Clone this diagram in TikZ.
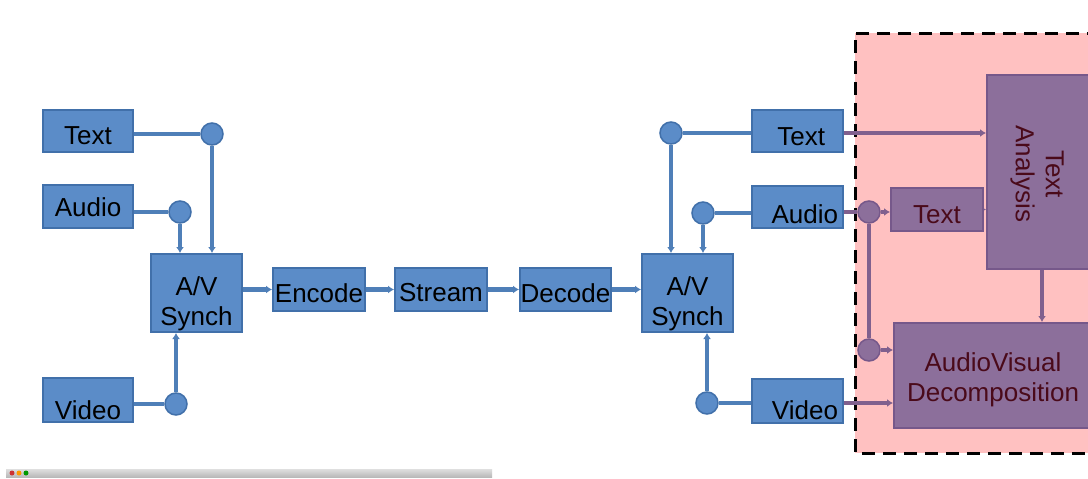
\documentclass[tikz,border=0pt]{standalone}
\usepackage{fontspec}
\setmainfont{Liberation Sans}
\usetikzlibrary{arrows.meta}
\definecolor{bfill}{HTML}{5B8CC8}
\definecolor{bdraw}{HTML}{4170AA}
\definecolor{bline}{HTML}{4F7FB8}
\definecolor{pfill}{HTML}{8C6F9B}
\definecolor{pdraw}{HTML}{76588A}
\definecolor{pline}{HTML}{80608E}
\definecolor{ptext}{HTML}{4A0A1A}
\definecolor{pink}{HTML}{FFC1C1}
\pgfdeclarelayer{back}
\pgfdeclarelayer{bg}
\pgfsetlayers{back,bg,main}
\tikzset{
  lbl/.style={font=\fontsize{26}{30}\selectfont, inner sep=0pt},
  bbox/.style={lbl, draw=bdraw, fill=bfill, line width=2pt, text=black, align=center},
  pbox/.style={lbl, draw=pdraw, fill=pfill, line width=2pt, text=ptext, align=center},
  dn/.style={text height=#1, text depth=0pt},
  bdot/.style={circle, draw=bdraw, fill=bfill, line width=1.5pt, minimum size=22pt, inner sep=0pt},
  pdot/.style={circle, draw=pdraw, fill=pfill, line width=1.5pt, minimum size=22pt, inner sep=0pt},
  bl/.style={draw=bline, line width=4.5pt},
  bla/.style={bl, -{Latex[length=6pt,width=8pt]}},
  pl/.style={draw=pline, line width=4.5pt},
  pla/.style={pl, -{Latex[length=6pt,width=8pt]}},
}
\begin{document}
\begin{tikzpicture}[x=1pt,y=-1pt]
\useasboundingbox (0,0) rectangle (1088,479);
\clip (0,0) rectangle (1088,479);

% pink region
\begin{pgfonlayer}{back}
\fill[white] (0,0) rectangle (1088,479);
\fill[pink] (855,33) rectangle (1100,453);
\draw[black, line width=3pt, dash pattern=on 13pt off 8pt] (1100,33) -- (855,33) -- (855,453) -- (1100,453);
\end{pgfonlayer}

% left side boxes
\node[bbox, dn=27.6pt, minimum width=90pt, minimum height=42pt] (lT) at (88,131) {Text};
\node[bbox, dn=20.6pt, minimum width=90pt, minimum height=43pt] (lA) at (88,206.5) {Audio};
\node[bbox, dn=38.6pt, minimum width=90pt, minimum height=44pt] (lV) at (88,400) {Video};
\node[bbox, minimum width=91pt, minimum height=78pt] (lAV) at (196.5,293) {};
\node[lbl, align=center] (lAVl) at (196.5,304) {A/V\\Synch};
\node[bbox, dn=26.6pt, minimum width=92pt, minimum height=43pt] (enc) at (319,289.5) {Encode};
\node[bbox, dn=24.6pt, minimum width=92pt, minimum height=43pt] (str) at (441,289.5) {Stream};
\node[bbox, dn=26.6pt, minimum width=91pt, minimum height=43pt] (dec) at (565.5,289.5) {Decode};
\node[bbox, minimum width=91pt, minimum height=78pt] (rAV) at (687.5,293) {};
\node[lbl, align=center] (rAVl) at (687.5,304) {A/V\\Synch};
\node[bbox, dn=28.6pt, minimum width=91pt, minimum height=42pt, text width=87pt, align=right] (rT) at (797.5,131) {Text\hspace*{16pt}};
\node[bbox, dn=32.6pt, minimum width=91pt, minimum height=42pt, text width=87pt, align=right] (rA) at (797.5,207) {Audio\hspace*{3pt}};
\node[bbox, dn=36.6pt, minimum width=91pt, minimum height=44pt, text width=87pt, align=right] (rV) at (797.5,401) {Video\hspace*{3pt}};

% pink region boxes
\node[pbox, dn=27.6pt, minimum width=92pt, minimum height=43pt] (st) at (937,209.5) {Text};
\node[pbox, minimum width=110pt, minimum height=194pt] (TA) at (1042,172) {};
\node[lbl, text=ptext, rotate=-90, align=center] (TAl) at (1037,174) {Text\\Analysis};
\node[pbox, minimum width=200pt, minimum height=105pt] (AVD) at (994,375.5) {};
\node[lbl, text=ptext, align=center] (AVDl) at (993,380) {AudioVisual\\Decomposition};

% dots
\node[bdot] (lcT) at (212,134) {};
\node[bdot] (lcA) at (180,212) {};
\node[bdot] (lcV) at (176,404) {};
\node[bdot] (rcT) at (671,133) {};
\node[bdot] (rcA) at (703,213) {};
\node[bdot] (rcV) at (707,403) {};
\node[pdot] (pc1) at (869,212) {};
\node[pdot] (pc2) at (869,350) {};
\coordinate (tax) at (1042,269);

\begin{pgfonlayer}{bg}
% left
\draw[bl] (lT.east |- lcT) -- (lcT);
\draw[bla] (lcT) -- (lcT |- lAV.north);
\draw[bl] (lA.east |- lcA) -- (lcA);
\draw[bla] (lcA) -- (lcA |- lAV.north);
\draw[bl] (lV.east |- lcV) -- (lcV);
\draw[bla] (lcV) -- (lcV |- lAV.south);
\draw[bla] (lAV.east |- enc) -- (enc.west);
\draw[bla] (enc) -- (str.west);
\draw[bla] (str) -- (dec.west);
\draw[bla] (dec) -- (rAV.west |- dec);
% right
\draw[bl] (rT.west |- rcT) -- (rcT);
\draw[bla] (rcT) -- (rcT |- rAV.north);
\draw[bl] (rA.west |- rcA) -- (rcA);
\draw[bla] (rcA) -- (rcA |- rAV.north);
\draw[bl] (rV.west |- rcV) -- (rcV);
\draw[bla] (rcV) -- (rcV |- rAV.south);
% pink region connectors
\draw[pla] (rT.east |- rcT) -- (TA.west |- rcT);
\draw[pl] (rA.east |- pc1) -- (pc1);
\draw[pla] (pc1) -- (st.west |- pc1);
\draw[pl] (pc1) -- (pc2);
\draw[pla] (pc2) -- (AVD.west |- pc2);
\draw[pla] (rV.east |- rcV) -- (AVD.west |- rcV);
\draw[pla] (st.east) -- (TA.west |- st.east);
\draw[pla] (tax) -- (tax |- AVD.north);
\end{pgfonlayer}

% window title bar
\shade[top color=gray!25, bottom color=gray!55] (6,469) rectangle (492,477);
\node[circle, fill=red!75!black!80, minimum size=5pt, inner sep=0pt] (w1) at (12,473) {};
\node[circle, fill=orange!80!yellow, minimum size=5pt, inner sep=0pt] (w2) at (19,473) {};
\node[circle, fill=green!60!black, minimum size=5pt, inner sep=0pt] (w3) at (26,473) {};
\end{tikzpicture}
\end{document}
